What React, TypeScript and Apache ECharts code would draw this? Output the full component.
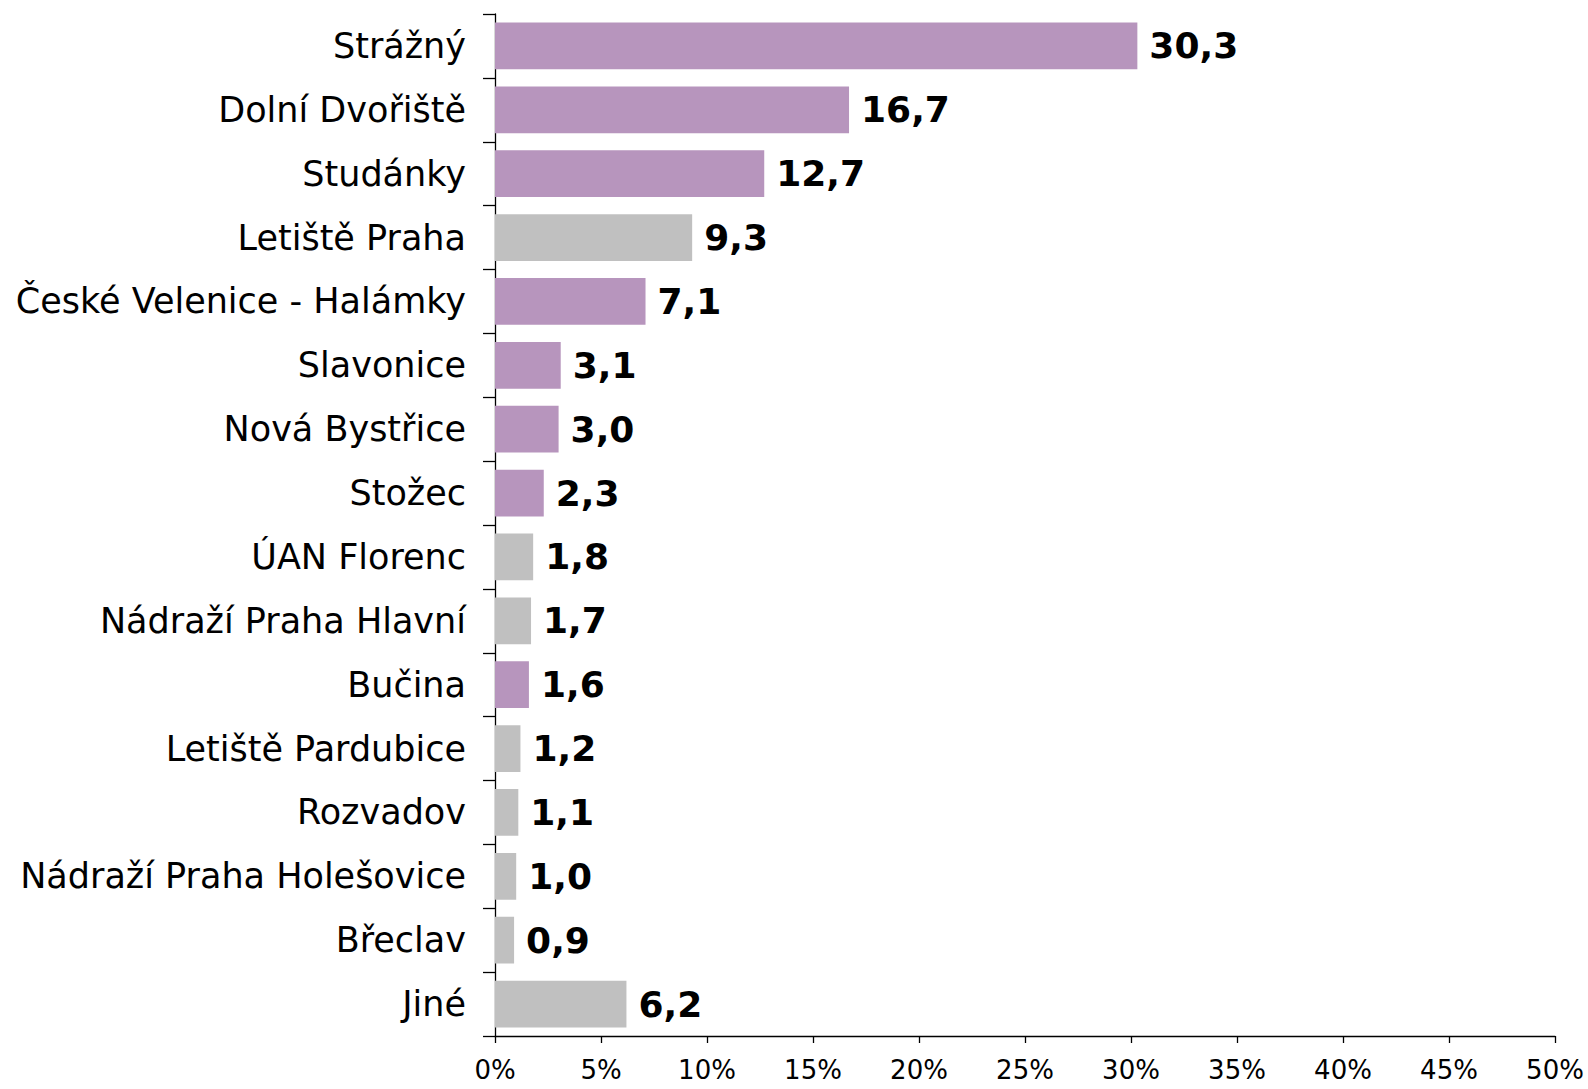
import React, { useEffect, useRef } from "react";
import * as echarts from "echarts";

const categories = [
  "Strážný",
  "Dolní Dvořiště",
  "Studánky",
  "Letiště Praha",
  "České Velenice - Halámky",
  "Slavonice",
  "Nová Bystřice",
  "Stožec",
  "ÚAN Florenc",
  "Nádraží Praha Hlavní",
  "Bučina",
  "Letiště Pardubice",
  "Rozvadov",
  "Nádraží Praha Holešovice",
  "Břeclav",
  "Jiné",
];
const values = [30.3, 16.7, 12.7, 9.3, 7.1, 3.1, 3.0, 2.3, 1.8, 1.7, 1.6, 1.2, 1.1, 1.0, 0.9, 6.2];
// true = road border crossing (purple), false = other (grey)
const isPurple = [true, true, true, false, true, true, true, true, false, false, true, false, false, false, false, false];

const PURPLE = "#B795BD";
const GREY = "#C0C0C0";
const FONT = "DejaVu Sans";

export default function App() {
  const ref = useRef<HTMLDivElement>(null);
  useEffect(() => {
    if (!ref.current) return;
    const chart = echarts.init(ref.current, null, { renderer: "svg" });
    chart.setOption({
      animation: false,
      backgroundColor: "#ffffff",
      grid: { left: 495, right: 33, top: 14, bottom: 53, containLabel: false },
      xAxis: {
        type: "value",
        min: 0,
        max: 50,
        interval: 5,
        axisLine: { show: true, lineStyle: { color: "#000", width: 1.3 } },
        axisTick: { show: true, length: 7, lineStyle: { color: "#000", width: 1.3 } },
        splitLine: { show: false },
        axisLabel: {
          formatter: "{value}%",
          color: "#000",
          fontFamily: FONT,
          fontSize: 26,
          margin: 21,
        },
      },
      yAxis: {
        type: "category",
        data: categories,
        inverse: true,
        axisLine: { show: true, lineStyle: { color: "#000", width: 1.3 } },
        axisTick: { show: true, length: 12, alignWithLabel: false, lineStyle: { color: "#000", width: 1.3 } },
        axisLabel: {
          color: "#000",
          fontFamily: FONT,
          fontSize: 35,
          margin: 29,
          padding: [8, 0, 0, 0],
        },
      },
      series: [
        {
          type: "bar",
          data: values.map((v, i) => ({
            value: v,
            itemStyle: { color: isPurple[i] ? PURPLE : GREY },
          })),
          barCategoryGap: "27%",
          label: {
            show: true,
            position: "right",
            distance: 12,
            color: "#000",
            fontFamily: FONT,
            fontWeight: "bold",
            fontSize: 36,
            padding: [8, 0, 0, 0],
            formatter: (p: any) => p.value.toFixed(1).replace(".", ","),
          },
        },
      ],
    });
    return () => chart.dispose();
  }, []);
  return (
    <div
      ref={ref}
      style={{ position: "fixed", left: 0, top: 0, width: 1588, height: 1089 }}
    />
  );
}
